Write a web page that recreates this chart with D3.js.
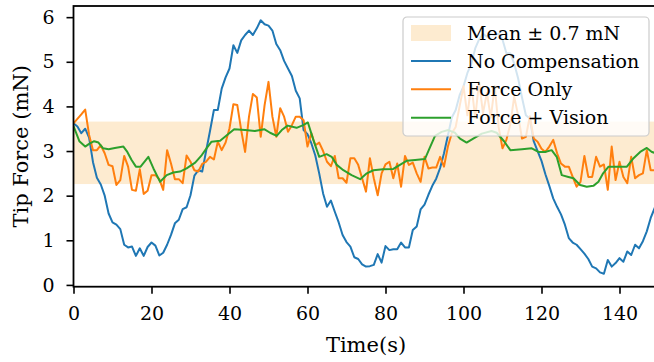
<!DOCTYPE html>
<html>
<head>
<meta charset="utf-8">
<script src="https://cdn.jsdelivr.net/npm/d3@7"></script>
<style>
  body { margin: 0; background: #fff; }
  svg { display: block; font-family: "DejaVu Serif", serif; }
</style>
</head>
<body>
<svg id="chart"></svg>
<script>
const width = 654
const height = 362

// Time axis for the 1 s sampled series
const time = d3.range(0, 151)

const noCompensation = [
	3.62, 3.55, 3.40, 3.50, 3.30, 2.75, 2.40, 2.25, 2.00, 1.60,
	1.40, 1.35, 1.25, 0.90, 0.84, 0.86, 0.65, 0.82, 0.65, 0.85,
	0.95, 0.88, 0.66, 0.72, 0.90, 1.12, 1.38, 1.46, 1.70, 1.74,
	2.01, 2.45, 2.57, 2.54, 3.00, 3.45, 3.92, 3.92, 4.40, 4.65,
	4.85, 5.37, 5.20, 5.48, 5.60, 5.70, 5.60, 5.75, 5.93, 5.84,
	5.81, 5.70, 5.40, 5.26, 5.02, 4.85, 4.68, 4.35, 4.18, 3.47,
	3.38, 3.17, 2.90, 2.50, 2.05, 1.75, 1.89, 1.64, 1.40, 1.12,
	0.96, 0.86, 0.62, 0.58, 0.46, 0.41, 0.42, 0.45, 0.69, 0.50,
	0.87, 0.78, 0.80, 0.80, 0.95, 0.84, 0.84, 1.23, 1.31, 1.69,
	1.80, 2.02, 2.22, 2.38, 2.62, 2.95, 3.35, 3.75, 3.92, 4.25,
	4.45, 4.75, 4.95, 5.30, 5.50, 5.63, 5.56, 5.62, 5.60, 5.63,
	5.50, 5.19, 5.19, 4.96, 4.63, 4.20, 3.80, 3.73, 3.22, 3.00,
	2.78, 2.48, 2.22, 1.94, 1.75, 1.58, 1.35, 1.05, 0.95, 0.90,
	0.80, 0.70, 0.58, 0.41, 0.37, 0.28, 0.25, 0.56, 0.41, 0.49,
	0.60, 0.52, 0.75, 0.67, 0.90, 0.82, 0.98, 1.20, 1.50, 1.72,
	1.90
]

const forceOnly = [
	3.62, 3.72, 3.82, 3.93, 3.36, 3.02, 3.02, 3.13, 2.95, 2.69,
	2.66, 2.24, 2.35, 2.89, 2.65, 2.13, 2.11, 2.59, 2.04, 2.11,
	2.46, 2.46, 2.37, 2.13, 3.02, 2.72, 2.37, 2.37, 2.28, 2.90,
	2.76, 2.57, 2.54, 2.71, 2.76, 2.87, 2.81, 3.21, 3.02, 3.19,
	3.51, 4.05, 4.03, 3.47, 2.98, 3.77, 4.28, 4.20, 3.32, 4.03,
	4.55, 3.77, 3.32, 3.96, 3.77, 3.43, 3.58, 3.77, 3.77, 3.69,
	3.10, 3.40, 3.13, 3.19, 3.00, 2.76, 2.66, 2.89, 2.39, 2.39,
	2.29, 2.84, 2.84, 2.69, 2.39, 2.09, 2.84, 2.39, 2.01, 2.50,
	2.70, 2.76, 2.39, 2.72, 2.20, 2.89, 2.69, 2.74, 2.50, 2.31,
	2.87, 2.61, 2.63, 2.63, 2.87, 2.65, 3.10, 3.40, 3.54, 4.00,
	4.45, 3.80, 4.50, 3.75, 4.55, 3.85, 4.30, 3.75, 4.45, 3.54,
	3.06, 3.25, 3.60, 4.22, 3.80, 3.28, 3.32, 3.78, 3.28, 3.21,
	3.05, 2.98, 3.10, 3.25, 2.95, 2.72, 2.65, 2.65, 2.42, 2.20,
	2.31, 2.89, 2.42, 2.42, 2.87, 2.65, 2.70, 2.13, 3.10, 2.35,
	2.76, 2.42, 2.28, 2.87, 2.39, 2.46, 2.50, 3.02, 2.57, 2.57,
	2.55
]

// Force + Vision is logged at its own (slower) times
const visionTime = [
	0, 1.5, 3, 4, 5.3, 6.4, 7.6, 9, 10.6, 12.8,
	13.8, 14.9, 16, 17.2, 19.2, 20.5, 22.2, 23.9, 25.6, 27.3,
	29, 31.2, 32.9, 34.1, 35.4, 37.6, 39.7, 41.2, 44, 46.5,
	48.9, 50.4, 52.1, 53.4, 54.9, 57.2, 58.9, 60.1, 61.5, 63,
	64.9, 66.2, 67.5, 69.2, 71.3, 73.5, 75.2, 76.9, 79.4, 82,
	83.7, 85.4, 87.6, 90.1, 91.4, 92.7, 94.4, 96.1, 97.8, 99.1,
	100.8, 102.5, 104.7, 107.2, 108.5, 110.4, 112, 115, 117.5, 119.2,
	120.9, 122.6, 123.9, 125.2, 126.9, 128.2, 129.9, 131.6, 133.3, 134.6,
	135.8, 137.2, 139.7, 141.9, 143.6, 145.3, 147, 148.3, 150
]
const forceVision = [
	3.56, 3.22, 3.10, 3.16, 3.22, 3.19, 3.06, 3.04, 3.07, 3.10,
	2.98, 2.80, 2.65, 2.65, 2.87, 2.61, 2.31, 2.46, 2.52, 2.54,
	2.61, 2.74, 2.91, 3.06, 3.21, 3.23, 3.38, 3.49, 3.47, 3.45,
	3.49, 3.41, 3.34, 3.47, 3.57, 3.52, 3.58, 3.64, 3.25, 2.87,
	2.93, 2.87, 2.69, 2.57, 2.46, 2.37, 2.50, 2.57, 2.59, 2.60,
	2.69, 2.78, 2.80, 2.82, 3.08, 3.34, 3.43, 3.47, 3.41, 3.28,
	3.19, 3.28, 3.39, 3.45, 3.41, 3.22, 3.02, 3.04, 3.06, 2.98,
	2.98, 3.02, 2.87, 2.46, 2.42, 2.39, 2.24, 2.20, 2.22, 2.31,
	2.50, 2.65, 2.65, 2.65, 2.84, 2.98, 3.07, 2.98, 2.93
]

const bandMean = 2.96
const bandHalfWidth = 0.7

const xTicks = [0, 20, 40, 60, 80, 100, 120, 140]
const yTicks = [0, 1, 2, 3, 4, 5, 6]

const legendLabels = ["Mean \u00b1 0.7 mN", "No Compensation", "Force Only", "Force + Vision"]
const colors = ["#1f77b4", "#ff7f0e", "#2ca02c"]
const bandColor = "#fdebd0"

const margin = { left: 73.5, top: 6, bottom: 286.7 }
const plotRight = 658.5

const x = d3.scaleLinear().domain([0, 150]).range([margin.left, plotRight])
const y = d3.scaleLinear().domain([-0.04, 6.25]).range([margin.bottom, margin.top])

const svg = d3.select("#chart")
	.attr("width", width)
	.attr("height", height)

// tolerance band
svg.append("rect")
	.attr("x", x(0))
	.attr("width", x(150) - x(0))
	.attr("y", y(bandMean + bandHalfWidth))
	.attr("height", y(bandMean - bandHalfWidth) - y(bandMean + bandHalfWidth))
	.attr("fill", bandColor)

const line = d3.line()
	.x(d => x(d[0]))
	.y(d => y(d[1]))

const series = [
	d3.zip(time, noCompensation),
	d3.zip(time, forceOnly),
	d3.zip(visionTime, forceVision)
]

svg.append("defs").append("clipPath").attr("id", "clip")
	.append("rect")
	.attr("x", margin.left).attr("y", margin.top)
	.attr("width", plotRight - margin.left)
	.attr("height", margin.bottom - margin.top)

svg.append("g")
	.attr("clip-path", "url(#clip)")
	.selectAll("path")
	.data(series)
	.enter().append("path")
	.attr("d", line)
	.attr("fill", "none")
	.attr("stroke", (d, i) => colors[i])
	.attr("stroke-width", 2)
	.attr("stroke-linejoin", "round")

// axes
const xAxis = svg.append("g")
	.attr("transform", `translate(0,${margin.bottom})`)
	.call(d3.axisBottom(x).tickValues(xTicks).tickFormat(d3.format("d")).tickSize(7).tickPadding(13))
const yAxis = svg.append("g")
	.attr("transform", `translate(${margin.left},0)`)
	.call(d3.axisLeft(y).tickValues(yTicks).tickFormat(d3.format("d")).tickSize(7).tickPadding(12))

for (const axis of [xAxis, yAxis]) {
	axis.attr("font-family", "DejaVu Serif").attr("font-size", 19)
	axis.select(".domain").remove()
	axis.selectAll(".tick line").attr("stroke", "#000").attr("stroke-width", 1.6)
	axis.selectAll(".tick text").attr("fill", "#000")
}

// spines
svg.append("rect")
	.attr("x", margin.left)
	.attr("y", margin.top)
	.attr("width", plotRight - margin.left)
	.attr("height", margin.bottom - margin.top)
	.attr("fill", "none")
	.attr("stroke", "#000")
	.attr("stroke-width", 1.8)

svg.append("text")
	.attr("x", 366)
	.attr("y", 352)
	.attr("text-anchor", "middle")
	.style("font-size", "21px")
	.text("Time(s)")

svg.append("text")
	.attr("transform", `translate(28,${(margin.top + margin.bottom) / 2}) rotate(-90)`)
	.attr("text-anchor", "middle")
	.style("font-size", "21px")
	.text("Tip Force (mN)")

// legend
const legend = svg.append("g").attr("transform", "translate(403,17)")
legend.append("rect")
	.attr("width", 246)
	.attr("height", 119)
	.attr("rx", 4)
	.attr("fill", "#fff")
	.attr("fill-opacity", 0.8)
	.attr("stroke", "#ccc")
	.attr("stroke-width", 1.2)

const rowY = [16, 44, 72.3, 100.7]
legend.append("rect")
	.attr("x", 8).attr("y", rowY[0] - 8)
	.attr("width", 40).attr("height", 16)
	.attr("fill", bandColor)

colors.forEach((c, i) => {
	legend.append("line")
		.attr("x1", 8).attr("x2", 48)
		.attr("y1", rowY[i + 1]).attr("y2", rowY[i + 1])
		.attr("stroke", c).attr("stroke-width", 2)
})

legend.selectAll(".label")
	.data(legendLabels)
	.enter().append("text")
	.attr("class", "label")
	.attr("x", 64)
	.attr("y", (d, i) => rowY[i])
	.attr("dy", "0.35em")
	.style("font-size", "19px")
	.text(d => d)
</script>
</body>
</html>
